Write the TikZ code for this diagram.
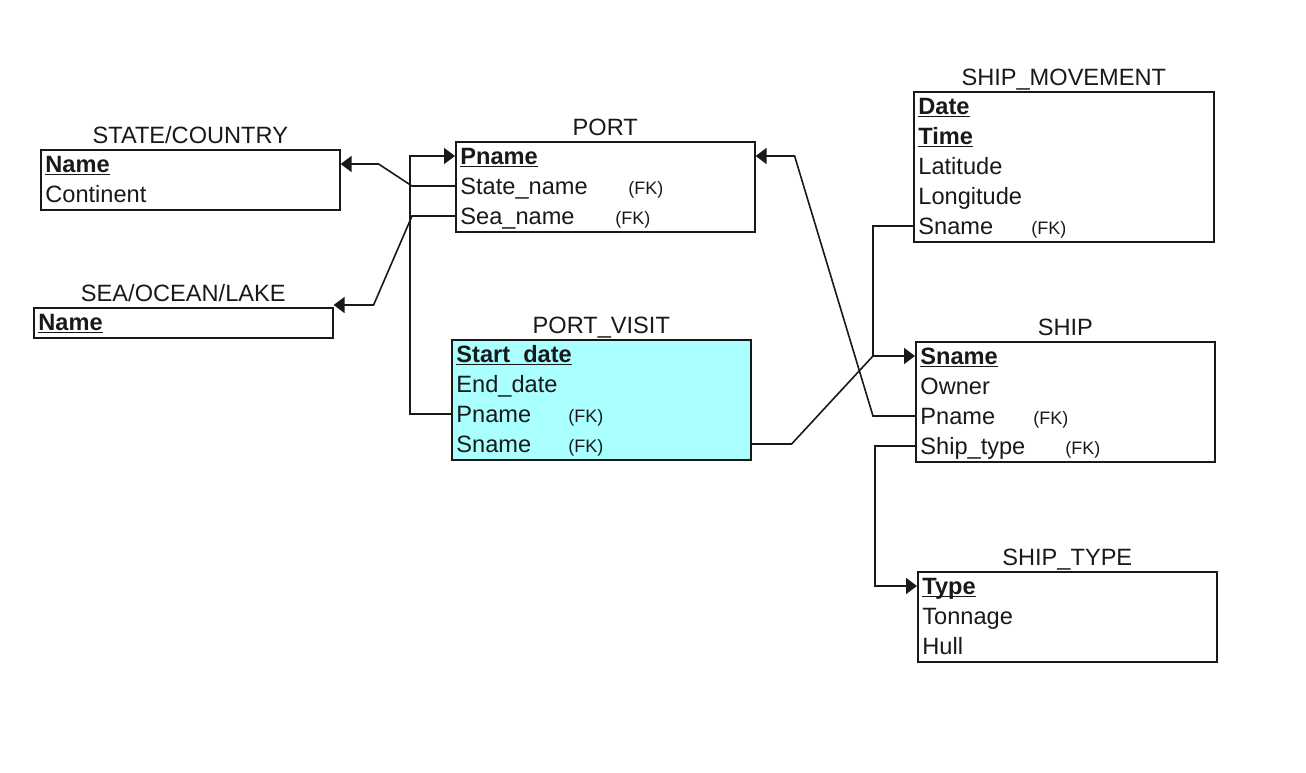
\documentclass[tikz,border=0pt]{standalone}
\usepackage{fontspec}
\setmainfont{Liberation Sans}
\usetikzlibrary{arrows.meta}
\definecolor{visitfill}{RGB}{170,255,255}
\definecolor{ink}{RGB}{25,25,25}
\newcommand\pkey[1]{\setbox0\hbox{\bfseries #1}\rlap{\rule[-1.6pt]{\wd0}{0.8pt}}\box0}
\begin{document}
\begin{tikzpicture}[x=0.5pt,y=-0.5pt,
  ebox/.style={draw=ink, line width=0.8pt, anchor=north west, inner sep=0pt, minimum width=149.5pt},
  etitle/.style={anchor=base, inner sep=0pt, text=ink, font=\fontsize{11.8}{13}\selectfont},
  erow/.style={anchor=base west, inner sep=0pt, text=ink, text height=8pt, text depth=0pt, font=\fontsize{11.8}{13}\selectfont},
  fk/.style={anchor=base west, inner sep=0pt, text=ink, font=\fontsize{9}{10}\selectfont},
  link/.style={draw=ink, line width=0.8pt},
  arr/.style={link, -{Triangle[length=5.5pt,width=8pt]}}
]
\useasboundingbox (0,0) rectangle (1306,772);

% STATE/COUNTRY
\node[ebox, minimum height=30pt] (state) at (40,149) {};
\node[etitle] (stateT) at ([yshift=3pt]state.north) {STATE/COUNTRY};
\node[erow] (stater1) at ([xshift=2.5pt,yshift=-11.5pt]state.north west) {\pkey{Name}};
\node[erow] (stater2) at ([xshift=2.5pt,yshift=-26.5pt]state.north west) {Continent};

% SEA/OCEAN/LAKE
\node[ebox, minimum height=15pt] (sea) at (33,307) {};
\node[etitle] (seaT) at ([yshift=3pt]sea.north) {SEA/OCEAN/LAKE};
\node[erow] (sear1) at ([xshift=2.5pt,yshift=-11.5pt]sea.north west) {\pkey{Name}};

% PORT
\node[ebox, minimum height=45pt] (port) at (455,141) {};
\node[etitle] (portT) at ([yshift=3pt]port.north) {PORT};
\node[erow] (portr1) at ([xshift=2.5pt,yshift=-11.5pt]port.north west) {\pkey{Pname}};
\node[erow] (portr2) at ([xshift=2.5pt,yshift=-26.5pt]port.north west) {State\_name};
\node[erow] (portr3) at ([xshift=2.5pt,yshift=-41.5pt]port.north west) {Sea\_name};
\node[fk] (portf2) at ([xshift=84pt]portr2.base west) {(FK)};
\node[fk] (portf3) at ([xshift=77.5pt]portr3.base west) {(FK)};

% PORT_VISIT
\node[ebox, fill=visitfill, minimum height=60pt] (visit) at (451,339) {};
\node[etitle] (visitT) at ([yshift=3pt]visit.north) {PORT\_VISIT};
\node[erow] (visitr1) at ([xshift=2.5pt,yshift=-11.5pt]visit.north west) {\pkey{Start\_date}};
\node[erow] (visitr2) at ([xshift=2.5pt,yshift=-26.5pt]visit.north west) {End\_date};
\node[erow] (visitr3) at ([xshift=2.5pt,yshift=-41.5pt]visit.north west) {Pname};
\node[erow] (visitr4) at ([xshift=2.5pt,yshift=-56.5pt]visit.north west) {Sname};
\node[fk] (visitf3) at ([xshift=56pt]visitr3.base west) {(FK)};
\node[fk] (visitf4) at ([xshift=56pt]visitr4.base west) {(FK)};

% SHIP_MOVEMENT
\node[ebox, minimum width=150pt, minimum height=75pt] (move) at (913,91) {};
\node[etitle] (moveT) at ([yshift=3pt]move.north) {SHIP\_MOVEMENT};
\node[erow] (mover1) at ([xshift=2.5pt,yshift=-11.5pt]move.north west) {\pkey{Date}};
\node[erow] (mover2) at ([xshift=2.5pt,yshift=-26.5pt]move.north west) {\pkey{Time}};
\node[erow] (mover3) at ([xshift=2.5pt,yshift=-41.5pt]move.north west) {Latitude};
\node[erow] (mover4) at ([xshift=2.5pt,yshift=-56.5pt]move.north west) {Longitude};
\node[erow] (mover5) at ([xshift=2.5pt,yshift=-71.5pt]move.north west) {Sname};
\node[fk] (movef5) at ([xshift=56.5pt]mover5.base west) {(FK)};

% SHIP
\node[ebox, minimum height=60pt] (ship) at (915,341) {};
\node[etitle] (shipT) at ([yshift=3pt]ship.north) {SHIP};
\node[erow] (shipr1) at ([xshift=2.5pt,yshift=-11.5pt]ship.north west) {\pkey{Sname}};
\node[erow] (shipr2) at ([xshift=2.5pt,yshift=-26.5pt]ship.north west) {Owner};
\node[erow] (shipr3) at ([xshift=2.5pt,yshift=-41.5pt]ship.north west) {Pname};
\node[erow] (shipr4) at ([xshift=2.5pt,yshift=-56.5pt]ship.north west) {Ship\_type};
\node[fk] (shipf3) at ([xshift=56.5pt]shipr3.base west) {(FK)};
\node[fk] (shipf4) at ([xshift=72.5pt]shipr4.base west) {(FK)};

% SHIP_TYPE
\node[ebox, minimum height=45pt] (stype) at (917,571) {};
\node[etitle] (stypeT) at ([yshift=3pt]stype.north) {SHIP\_TYPE};
\node[erow] (styper1) at ([xshift=2.5pt,yshift=-11.5pt]stype.north west) {\pkey{Type}};
\node[erow] (styper2) at ([xshift=2.5pt,yshift=-26.5pt]stype.north west) {Tonnage};
\node[erow] (styper3) at ([xshift=2.5pt,yshift=-41.5pt]stype.north west) {Hull};

% connectors
\draw[arr] (port.west |- portr2.west) -- ++(-43,0) -- ([xshift=19pt]state.east |- stater1.west) -- (state.east |- stater1.west);
\draw[arr] (port.west |- portr3.west) -- ++(-43,0) -- ([xshift=20pt,yshift=1pt]sea.north east) -- ([yshift=1pt]sea.north east);
\draw[arr] (visit.west |- visitr3.west) -- ++(-41,0) |- (port.west |- portr1.west);
\draw[arr] (ship.west |- shipr3.west) -- ++(-42,0) -- ([xshift=19.5pt]port.east |- portr1.west) -- (port.east |- portr1.west);
\draw[arr] (visit.east |- visitr4.west) -- ++(40,0) -- ([xshift=-21pt]ship.west |- shipr1.west) -- (ship.west |- shipr1.west);
\draw[link] (move.west |- mover5.west) -- ++(-40,0) -- ([xshift=-21pt]ship.west |- shipr1.west);
\draw[arr] (ship.west |- shipr4.west) -- ++(-40,0) |- (stype.west |- styper1.west);
\end{tikzpicture}
\end{document}
